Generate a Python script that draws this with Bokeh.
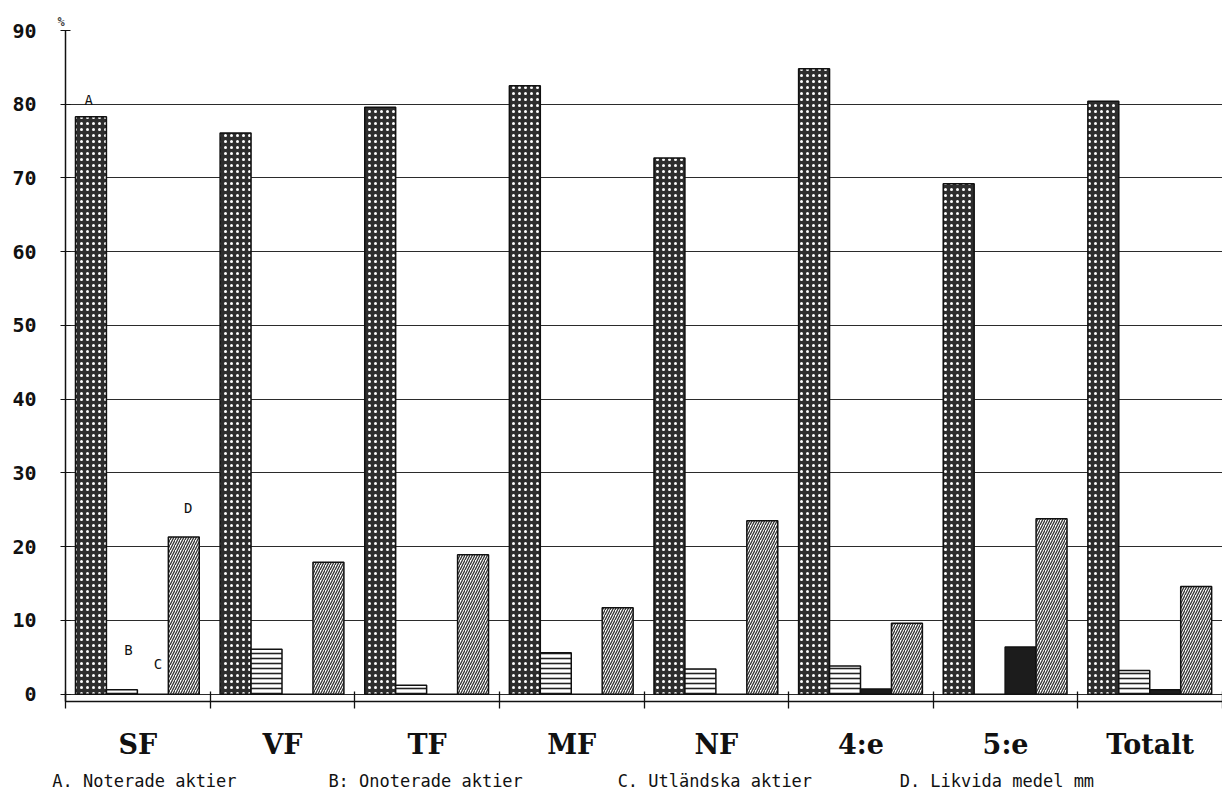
from bokeh.plotting import figure
from bokeh.models import FixedTicker, Range1d, ColumnDataSource, LinearAxis
from bokeh.embed import file_html
from bokeh.resources import INLINE
from bokeh.core.properties import value

# ---- data ----
groups = ["SF", "VF", "TF", "MF", "NF", "4:e", "5:e", "Totalt"]
noterade = [78.3, 76.1, 79.6, 82.5, 72.7, 84.8, 69.2, 80.4]      # A
onoterade = [0.6, 6.1, 1.2, 5.6, 3.4, 3.8, 0.0, 3.2]             # B
utlandska = [0.0, 0.0, 0.0, 0.0, 0.0, 0.7, 6.4, 0.6]             # C
likvida = [21.3, 17.9, 18.9, 11.7, 23.5, 9.6, 23.8, 14.6]        # D
y_ticks = [0, 10, 20, 30, 40, 50, 60, 70, 80, 90]
series_letters = ["A", "B", "C", "D"]
legend_labels = ["A. Noterade aktier", "B: Onoterade aktier",
                 "C. Utländska aktier", "D. Likvida medel mm"]

# ---- layout ----
n = len(groups)
bar_w = 0.214
offsets = [0.176, 0.390, 0.604, 0.818]
letter_dx = [-0.015, 0.045, 0.035, 0.03]
letter_dy = [2.3, 5.4, 4.1, 4.0]
legend_x = [0.546, 2.49, 4.49, 6.44]

p = figure(width=1222, height=793, output_backend="svg", toolbar_location=None,
           x_range=Range1d(0, n), y_range=Range1d(-1, 90),
           min_border_left=65, min_border_right=0, min_border_top=30,
           min_border_bottom=92, title="%")
p.outline_line_color = None
p.background_fill_color = "white"
p.border_fill_color = "white"
p.title.text_font = "DejaVu Sans Mono"
p.title.text_font_size = "12px"
p.title.text_font_style = "bold"
p.title.align = "left"
p.title.offset = -8
p.title.standoff = 4

p.xgrid.visible = False
p.ygrid.ticker = FixedTicker(ticks=y_ticks)
p.ygrid.grid_line_color = "#2b2b2b"
p.ygrid.grid_line_width = 1.2

# y axis
p.yaxis.ticker = FixedTicker(ticks=y_ticks)
p.yaxis.major_tick_in = 5
p.yaxis.major_tick_out = 5
p.yaxis.minor_tick_line_color = None
p.yaxis.axis_line_width = 1.5
p.yaxis.axis_line_color = "#111111"
p.yaxis.major_tick_line_color = "#111111"
p.yaxis.major_label_text_font = "DejaVu Sans Mono"
p.yaxis.major_label_text_font_style = "bold"
p.yaxis.major_label_text_font_size = "20px"
p.yaxis.major_label_text_color = "#111111"
p.yaxis.major_label_standoff = 24

# x axis: labels at group centres, ticks at group boundaries
centers = [i + 0.5 for i in range(n)]
bounds = [float(i) for i in range(n + 1)]
p.xaxis.ticker = FixedTicker(ticks=centers, minor_ticks=bounds)
p.xaxis.major_label_overrides = {c: g for c, g in zip(centers, groups)}
p.xaxis.major_tick_in = 0
p.xaxis.major_tick_out = 0
p.xaxis.minor_tick_in = 10
p.xaxis.minor_tick_out = 7
p.xaxis.minor_tick_line_color = "#111111"
p.xaxis.minor_tick_line_width = 1.3
p.xaxis.axis_line_color = "#111111"
p.xaxis.axis_line_width = 1.5
p.xaxis.major_label_text_font = "DejaVu Serif"
p.xaxis.major_label_text_font_style = "bold"
p.xaxis.major_label_text_font_size = "27px"
p.xaxis.major_label_text_color = "#111111"
p.xaxis.major_label_standoff = 20

# legend texts as a text-only axis below the group labels
leg_axis = LinearAxis(ticker=FixedTicker(ticks=legend_x),
                      major_label_overrides={x: t for x, t in zip(legend_x, legend_labels)})
leg_axis.axis_line_color = None
leg_axis.major_tick_line_color = None
leg_axis.minor_tick_line_color = None
leg_axis.major_tick_in = 0
leg_axis.major_tick_out = 0
leg_axis.major_label_text_font = "DejaVu Sans Mono"
leg_axis.major_label_text_font_size = "17px"
leg_axis.major_label_text_color = "#111111"
leg_axis.major_label_standoff = 8
p.add_layout(leg_axis, "below")

# bars
series = [noterade, onoterade, utlandska, likvida]
styles = [
    dict(fill_color="#2e2e2e", hatch_pattern="dot", hatch_color="white", hatch_scale=6, hatch_weight=1),
    dict(fill_color="white", hatch_pattern="horizontal_line", hatch_color="#222222", hatch_scale=5, hatch_weight=1.6),
    dict(fill_color="#1c1c1c"),
    dict(fill_color="white", hatch_pattern="right_diagonal_line", hatch_color="#333333", hatch_scale=5, hatch_weight=1.3),
]
for k, (vals, st) in enumerate(zip(series, styles)):
    src = ColumnDataSource(dict(x=[i + offsets[k] for i in range(n)], top=vals))
    p.vbar(x="x", top="top", bottom=0, width=bar_w, source=src,
           line_color="#111111", line_width=1.5, **st)

# series letters on the first group
lsrc = ColumnDataSource(dict(
    x=[offsets[k] + letter_dx[k] for k in range(4)],
    y=[series[k][0] + letter_dy[k] for k in range(4)],
    t=series_letters))
p.text(x="x", y="y", text="t", source=lsrc, text_font=value("DejaVu Sans Mono"),
       text_font_size="14px", text_align="center", text_baseline="middle",
       text_color="#111111")

open("out.html", "w").write(file_html(p, INLINE))
